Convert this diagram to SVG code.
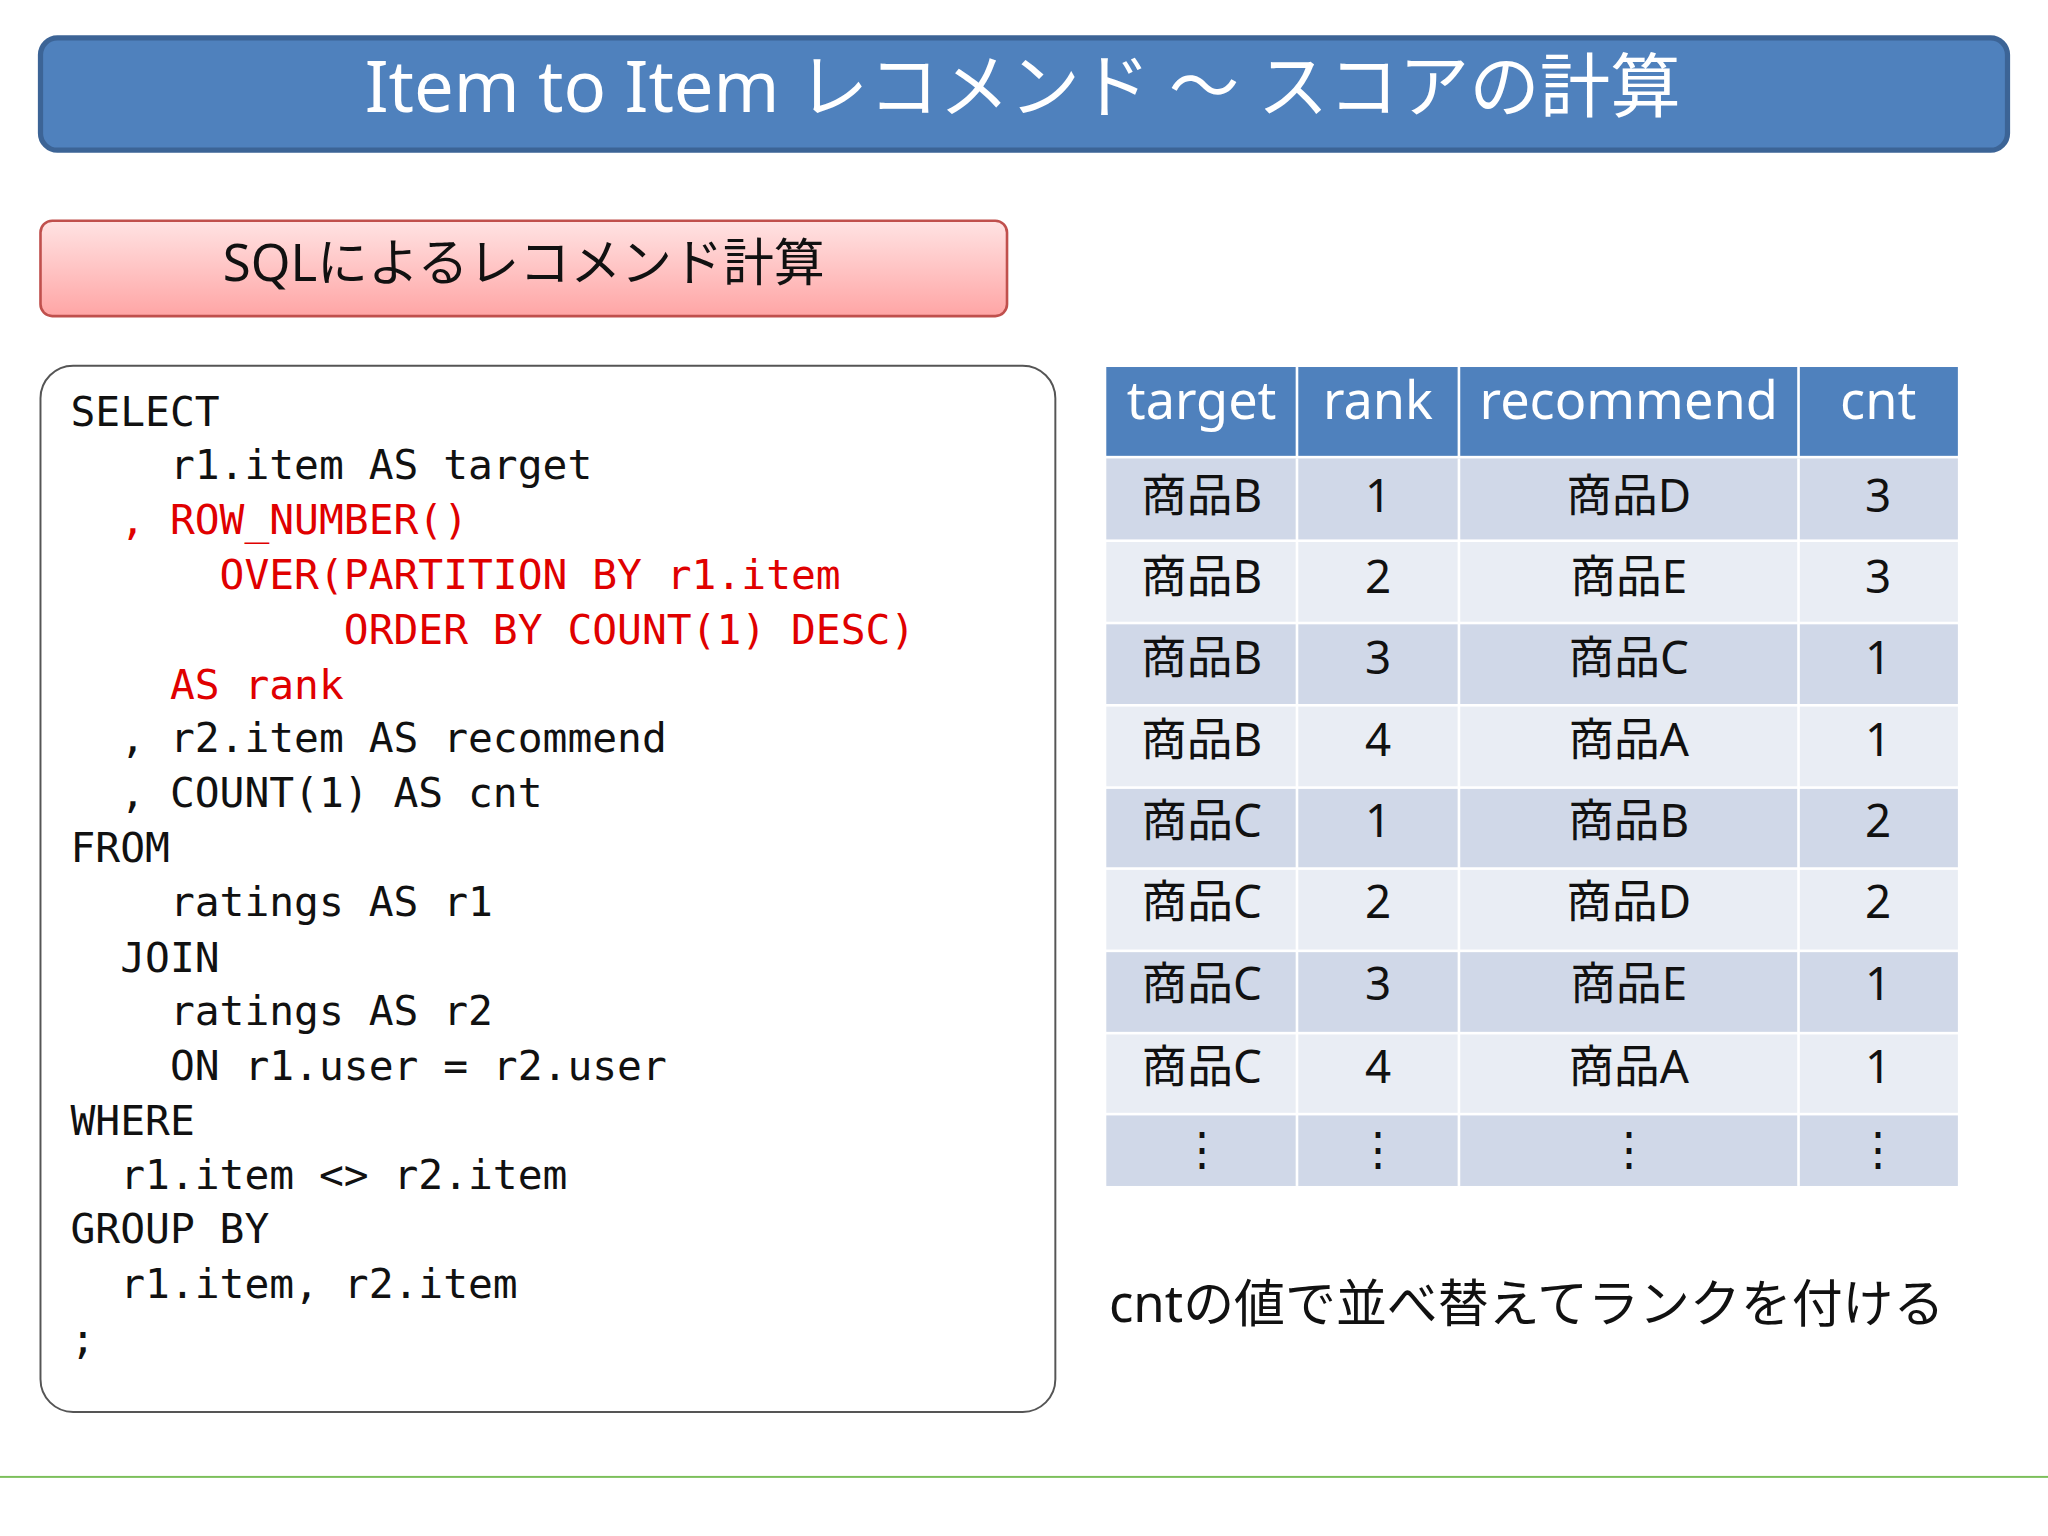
<svg xmlns="http://www.w3.org/2000/svg" width="2048" height="1536" viewBox="0 0 2048 1536">
<defs>
<linearGradient id="pk" x1="0" y1="0" x2="0" y2="1"><stop offset="0" stop-color="#ffe3e3"/><stop offset="1" stop-color="#ffa5a5"/></linearGradient>
<style>
.jp{font-family:"Noto Sans","Noto Sans CJK JP",sans-serif}
.code{font-family:"DejaVu Sans Mono","Liberation Mono",monospace;font-size:31.6px;fill:#111}
.red{fill:#e00000}
.th{font-family:"Noto Sans","Noto Sans CJK JP",sans-serif;font-size:40px;fill:#fff;text-anchor:middle}
.td{font-family:"Noto Sans","Noto Sans CJK JP",sans-serif;font-size:35px;fill:#111;text-anchor:middle}
.d{fill:#d0d8e8}.l{fill:#e9edf4}
</style>
</defs>
<rect width="2048" height="1536" fill="#fff"/>
<g transform="scale(1.30612)">
<g id="title">
<rect x="31" y="29" width="1506" height="86" rx="13" fill="#4f81bd" stroke="#3c6496" stroke-width="4"/>
<text x="783" y="86" class="jp" font-size="54" fill="#fff" text-anchor="middle">Item to Item レコメンド ～ スコアの計算</text>
</g>
<g id="subtitle">
<rect x="31" y="169" width="740" height="73" rx="9" fill="url(#pk)" stroke="#c0504d" stroke-width="2"/>
<text x="401" y="215" class="jp" font-size="39" fill="#111" text-anchor="middle">SQLによるレコメンド計算</text>
</g>
<g id="code">
<rect x="31" y="280" width="777" height="801" rx="25" fill="#fff" stroke="#555" stroke-width="1.5"/>
<text class="code" xml:space="preserve">
<tspan x="54" y="326">SELECT</tspan>
<tspan x="54" y="367">    r1.item AS target</tspan>
<tspan x="54" y="409" class="red">  , ROW_NUMBER()</tspan>
<tspan x="54" y="451" class="red">      OVER(PARTITION BY r1.item</tspan>
<tspan x="54" y="493" class="red">           ORDER BY COUNT(1) DESC)</tspan>
<tspan x="54" y="535" class="red">    AS rank</tspan>
<tspan x="54" y="576">  , r2.item AS recommend</tspan>
<tspan x="54" y="618">  , COUNT(1) AS cnt</tspan>
<tspan x="54" y="660">FROM</tspan>
<tspan x="54" y="701">    ratings AS r1</tspan>
<tspan x="54" y="744">  JOIN</tspan>
<tspan x="54" y="785">    ratings AS r2</tspan>
<tspan x="54" y="827">    ON r1.user = r2.user</tspan>
<tspan x="54" y="869">WHERE</tspan>
<tspan x="54" y="910">  r1.item &lt;&gt; r2.item</tspan>
<tspan x="54" y="952">GROUP BY</tspan>
<tspan x="54" y="994">  r1.item, r2.item</tspan>
<tspan x="54" y="1036">;</tspan>
</text>
</g>
<g id="table">
<rect x="847" y="281" width="652" height="68" fill="#4f81bd"/>
<g fill="#fff"><rect x="992" y="281" width="2" height="627"/><rect x="1116" y="281" width="2" height="627"/><rect x="1376" y="281" width="2" height="627"/></g>
<text class="th" x="920" y="321">target</text><text class="th" x="1055" y="321">rank</text><text class="th" x="1247" y="321">recommend</text><text class="th" x="1438" y="321">cnt</text>
<rect class="d" x="847" y="351" width="652" height="62"/>
<rect class="l" x="847" y="415" width="652" height="61"/>
<rect class="d" x="847" y="478" width="652" height="61"/>
<rect class="l" x="847" y="541" width="652" height="61"/>
<rect class="d" x="847" y="604" width="652" height="60"/>
<rect class="l" x="847" y="666" width="652" height="61"/>
<rect class="d" x="847" y="729" width="652" height="61"/>
<rect class="l" x="847" y="792" width="652" height="60"/>
<rect class="d" x="847" y="854" width="652" height="54"/>
<g fill="#fff"><rect x="992" y="351" width="2" height="557"/><rect x="1116" y="351" width="2" height="557"/><rect x="1376" y="351" width="2" height="557"/></g>
<g>
<text class="td" x="920" y="392">商品B</text><text class="td" x="1055" y="392">1</text><text class="td" x="1247" y="392">商品D</text><text class="td" x="1438" y="392">3</text>
<text class="td" x="920" y="454">商品B</text><text class="td" x="1055" y="454">2</text><text class="td" x="1247" y="454">商品E</text><text class="td" x="1438" y="454">3</text>
<text class="td" x="920" y="516">商品B</text><text class="td" x="1055" y="516">3</text><text class="td" x="1247" y="516">商品C</text><text class="td" x="1438" y="516">1</text>
<text class="td" x="920" y="579">商品B</text><text class="td" x="1055" y="579">4</text><text class="td" x="1247" y="579">商品A</text><text class="td" x="1438" y="579">1</text>
<text class="td" x="920" y="641">商品C</text><text class="td" x="1055" y="641">1</text><text class="td" x="1247" y="641">商品B</text><text class="td" x="1438" y="641">2</text>
<text class="td" x="920" y="703">商品C</text><text class="td" x="1055" y="703">2</text><text class="td" x="1247" y="703">商品D</text><text class="td" x="1438" y="703">2</text>
<text class="td" x="920" y="766">商品C</text><text class="td" x="1055" y="766">3</text><text class="td" x="1247" y="766">商品E</text><text class="td" x="1438" y="766">1</text>
<text class="td" x="920" y="829">商品C</text><text class="td" x="1055" y="829">4</text><text class="td" x="1247" y="829">商品A</text><text class="td" x="1438" y="829">1</text>
<text class="td" x="920" y="892" font-size="24">⋮</text><text class="td" x="1055" y="892" font-size="24">⋮</text><text class="td" x="1247" y="892" font-size="24">⋮</text><text class="td" x="1438" y="892" font-size="24">⋮</text>
</g>
</g>
<g id="caption"><text x="849" y="1012" class="jp" font-size="39" fill="#111">cntの値で並べ替えてランクを付ける</text></g>
<rect x="0" y="1130" width="1568" height="1.5" fill="#7bbf5a"/>
</g>
</svg>
